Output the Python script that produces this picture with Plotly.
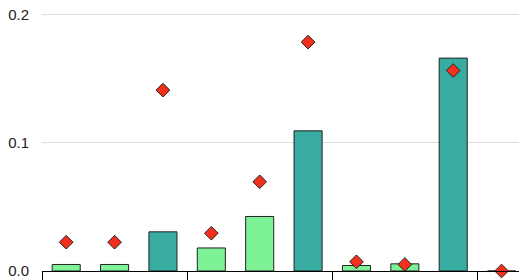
import plotly.graph_objects as go

categories = ["A1", "A2", "A3", "B1", "B2", "B3", "C1", "C2", "C3", "D1"]
bar_values = [0.0051, 0.0051, 0.0306, 0.018, 0.0426, 0.1095, 0.0043, 0.0056, 0.1663, 0.0]
diamond_values = [0.0225, 0.0225, 0.1413, 0.0295, 0.0697, 0.1788, 0.0072, 0.0051, 0.1566, 0.0]
bar_colors = ["#7df297", "#7df297", "#38aca0"] * 3 + ["#7df297"]
group_bounds = [-0.5, 2.5, 5.5, 8.5]
y_ticks = [0.0, 0.1, 0.2]

xs = list(range(len(categories)))

fig = go.Figure()
fig.add_trace(go.Bar(
    x=xs, y=bar_values, width=0.58,
    marker=dict(color=bar_colors, line=dict(color="#222", width=1)),
    hovertext=categories,
))
fig.add_trace(go.Scatter(
    x=xs, y=diamond_values, mode="markers",
    marker=dict(symbol="diamond", size=10.5, color="#f2301c", line=dict(color="#222", width=1)),
    cliponaxis=False,
))

fig.update_layout(
    width=519, height=280,
    margin=dict(l=42, r=0, t=0, b=9),
    plot_bgcolor="white", paper_bgcolor="white",
    showlegend=False,
    font=dict(family="Liberation Sans, Arial", size=15, color="#222"),
)
fig.update_xaxes(
    range=[-0.5, 9.36], tickvals=group_bounds, showticklabels=False,
    ticks="outside", ticklen=10, tickcolor="black", tickwidth=1,
    showline=True, linecolor="black", linewidth=1, showgrid=False, zeroline=False,
)
fig.update_yaxes(
    range=[0, 0.2117], tickvals=y_ticks, tickformat=".1f",
    showgrid=True, gridcolor="#dddddd", gridwidth=1, zeroline=False,
    showline=False, ticks="", ticklabelstandoff=12,
)

fig.write_html("out.html")
